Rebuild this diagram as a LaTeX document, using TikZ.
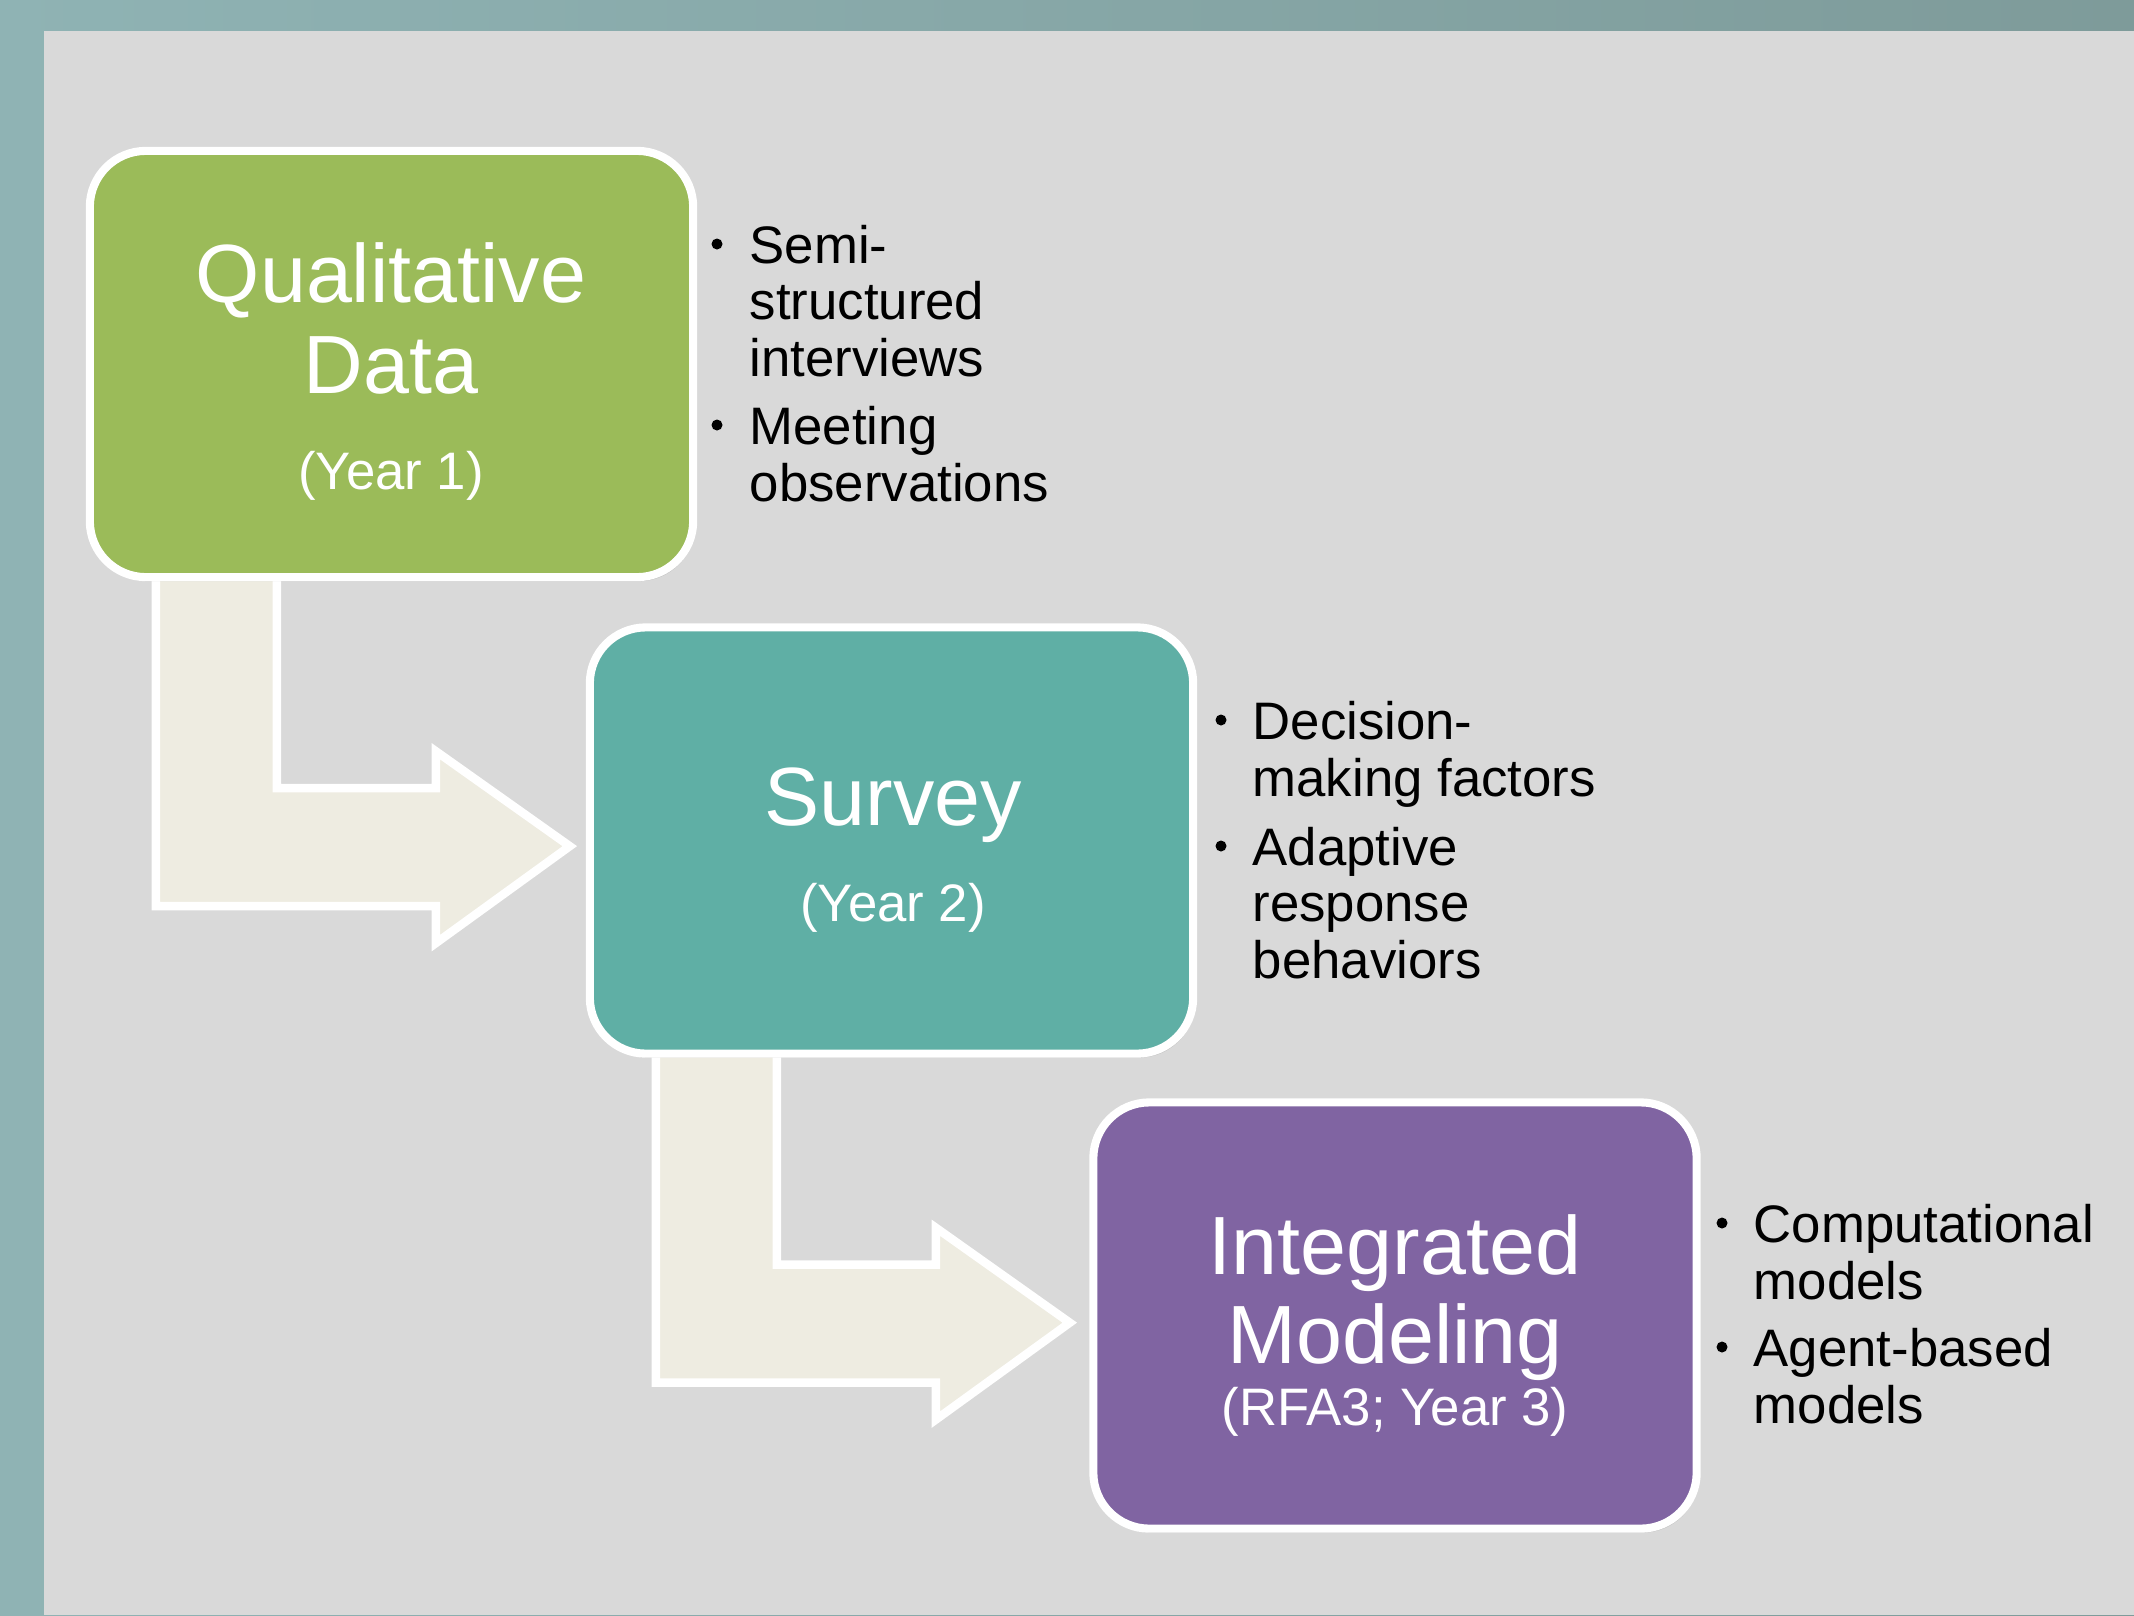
\documentclass[tikz,border=0pt]{standalone}
\usepackage{fontspec}
\setmainfont{Liberation Sans}
\usetikzlibrary{shadows,positioning}
\definecolor{qualgreen}{HTML}{9BBB59}
\definecolor{surveyteal}{HTML}{5FAFA5}
\definecolor{modelpurple}{HTML}{8064A2}
\definecolor{slidegray}{HTML}{D9D9D9}
\definecolor{frametealL}{HTML}{8FB3B4}
\definecolor{frametealR}{HTML}{7E9B9A}
\definecolor{arrowcream}{HTML}{EEECE1}
\pgfdeclarelayer{slide}
\pgfdeclarelayer{arrows}
\pgfsetlayers{slide,arrows,main}
\tikzset{
  stage/.style={rounded corners=0.56cm, draw=white, line width=2.3pt,
    minimum width=6.03cm, minimum height=4.26cm,
    drop shadow={shadow xshift=0.02cm, shadow yshift=-0.04cm, opacity=0.3}},
  title/.style={text=white, anchor=base, inner sep=0, font=\fontsize{23.5}{28}\selectfont},
  yearlbl/.style={text=white, anchor=base, inner sep=0, font=\fontsize{15}{18}\selectfont},
  bullettext/.style={anchor=base west, align=left, inner sep=0, font=\fontsize{15}{15.94}\selectfont},
  dotmark/.style={circle, fill=black, inner sep=0, minimum size=0.11cm},
  bendarrow/.style={fill=arrowcream, draw=white, line width=2.4pt, line join=miter,
    drop shadow={shadow xshift=0.02cm, shadow yshift=-0.03cm, opacity=0.3}}
}
\begin{document}
\begin{tikzpicture}[x=0.01cm,y=-0.01cm]
% slide background
\begin{pgfonlayer}{slide}
\shade[left color=frametealL, right color=frametealR] (0,0) rectangle (2134,1615);
\fill[slidegray] (44,31) rectangle (2134,1615);
\end{pgfonlayer}
% stages
\node[stage, fill=qualgreen] (qual) at (391.5,364) {};
\node[stage, fill=surveyteal] (surv) at (891.5,840.5) {};
\node[stage, fill=modelpurple] (integ) at (1395,1315.5) {};
\node[title] (qualA) at (391,302) {Qualitative};
\node[title] (qualB) at (391,393) {Data};
\node[yearlbl] (qualY) at (391,489) {(Year 1)};
\node[title] (survA) at (893,825) {Survey};
\node[yearlbl] (survY) at (893,921) {(Year 2)};
\node[title] (integA) at (1395,1274) {Integrated};
\node[title] (integB) at (1395,1363) {Modeling};
\node[yearlbl] (integY) at (1395,1425) {(RFA3; Year 3)};
% bent arrows between stages
\begin{pgfonlayer}{arrows}
\foreach \from in {qual,surv}
  \draw[bendarrow, shift={(\from.south west)}]
    (70,-10) -- (70,325) -- (350,325) -- (350,362) -- (484,265)
    -- (350,170) -- (350,207) -- (191,207) -- (191,-10) -- cycle;
\end{pgfonlayer}
% bullet lists (base = last line)
\node[dotmark] (qualD1) at (717,244) {};
\node[bullettext] (qualT1) at (749,376) {Semi-\\structured\\interviews};
\node[dotmark] (qualD2) at (717,425) {};
\node[bullettext] (qualT2) at (749,501) {Meeting\\observations};
\node[dotmark] (survD1) at (1221,720) {};
\node[bullettext] (survT1) at (1252,796) {Decision-\\making factors};
\node[dotmark] (survD2) at (1221,846) {};
\node[bullettext] (survT2) at (1252,978) {Adaptive\\response\\behaviors};
\node[dotmark] (integD1) at (1722,1223) {};
\node[bullettext] (integT1) at (1753,1299) {Computational\\models};
\node[dotmark] (integD2) at (1722,1347) {};
\node[bullettext] (integT2) at (1753,1423) {Agent-based\\models};
\end{tikzpicture}
\end{document}
